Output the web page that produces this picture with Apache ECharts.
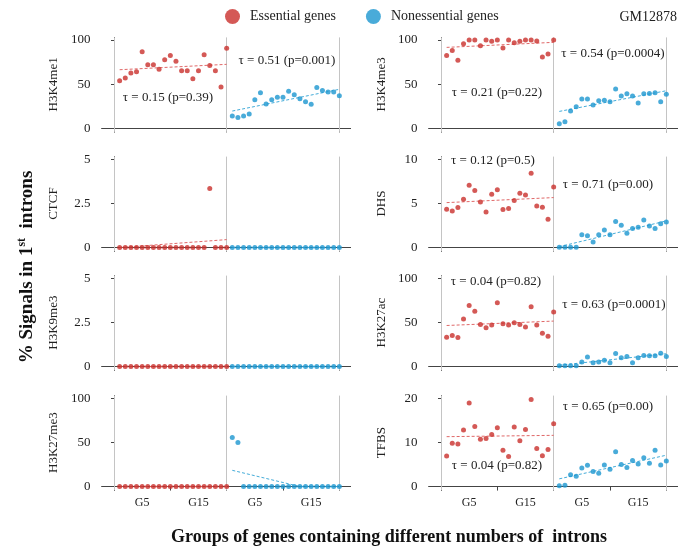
<!DOCTYPE html>
<html>
<head>
<meta charset="utf-8">
<title>GM12878 intron signals</title>
<style>
html, body { margin: 0; padding: 0; background: #fff; }
#main { width: 680px; height: 552px; }
</style>
</head>
<body>
<div id="main"></div>
<script src="https://cdn.jsdelivr.net/npm/echarts@6/dist/echarts.min.js"></script>
<script>
// gene groups G1..G20 (same groups on each half of a panel)
var groups = [1, 2, 3, 4, 5, 6, 7, 8, 9, 10, 11, 12, 13, 14, 15, 16, 17, 18, 19, 20];
var xLabelAt = [5, 15, 25, 35];
var xLabels = ['G5', 'G15', 'G5', 'G15'];

// % signal in 1st intron, essential (red) and nonessential (blue)
var h3k4me1Ess = [53.9, 57.0, 62.6, 64.0, 86.7, 72.0, 72.0, 67.0, 77.7, 82.6, 75.9, 65.3, 65.3, 56.2, 65.3, 83.4, 71.3, 65.3, 46.8, 90.6];
var h3k4me1Non = [13.9, 12.4, 13.9, 16.2, 32.4, 40.3, 27.5, 32.4, 35.1, 35.1, 41.9, 38.1, 33.6, 30.2, 27.2, 46.4, 43.0, 41.1, 41.1, 37.0];
var h3k4me3Ess = [82.6, 88.3, 77.0, 95.8, 100, 100, 93.5, 100, 98.5, 100, 90.9, 100, 97.0, 98.5, 100, 100, 99.0, 80.7, 84.1, 100];
var h3k4me3Non = [5.3, 7.5, 19.6, 24.5, 33.2, 33.2, 26.4, 31.3, 31.7, 30.2, 44.5, 36.6, 39.2, 36.6, 28.6, 39.2, 39.6, 40.3, 30.2, 38.5];
var ctcfEss = [0, 0, 0, 0, 0, 0, 0, 0, 0, 0, 0, 0, 0, 0, 0, 0, 3.34, 0, 0, 0];
var ctcfNon = [0, 0, 0, 0, 0, 0, 0, 0, 0, 0, 0, 0, 0, 0, 0, 0, 0, 0, 0, 0];
var dhsEss = [4.34, 4.15, 4.53, 5.47, 7.06, 6.45, 5.17, 4.04, 6.04, 6.56, 4.30, 4.41, 5.32, 6.15, 5.96, 8.42, 4.72, 4.57, 3.21, 6.87];
var dhsNon = [0.05, 0.05, 0.05, 0.05, 1.44, 1.33, 0.64, 1.44, 2.0, 1.44, 2.94, 2.53, 1.63, 2.15, 2.3, 3.13, 2.45, 2.15, 2.71, 2.9];
var h3k9me3Ess = [0, 0, 0, 0, 0, 0, 0, 0, 0, 0, 0, 0, 0, 0, 0, 0, 0, 0, 0, 0];
var h3k9me3Non = [0, 0, 0, 0, 0, 0, 0, 0, 0, 0, 0, 0, 0, 0, 0, 0, 0, 0, 0, 0];
var h3k27acEss = [33.2, 35.1, 32.8, 53.8, 69.1, 62.6, 47.7, 43.9, 47.0, 72.2, 48.5, 47.0, 49.6, 47.7, 44.7, 67.6, 47.0, 37.8, 34.4, 61.9];
var h3k27acNon = [0.8, 0.8, 0.8, 0.8, 5.3, 10.7, 4.2, 5.3, 7.2, 4.2, 14.9, 9.9, 11.5, 4.2, 9.9, 12.6, 12.2, 12.2, 15.2, 11.5];
var h3k27me3Ess = [0, 0, 0, 0, 0, 0, 0, 0, 0, 0, 0, 0, 0, 0, 0, 0, 0, 0, 0, 0];
var h3k27me3Non = [55.6, 50.0, 0, 0, 0, 0, 0, 0, 0, 0, 0, 0, 0, 0, 0, 0, 0, 0, 0, 0];
var tfbsEss = [6.9, 9.8, 9.65, 12.8, 18.9, 13.6, 10.7, 10.9, 11.8, 13.3, 8.2, 6.8, 13.5, 10.4, 12.9, 19.7, 8.6, 7.0, 8.4, 14.2];
var tfbsNon = [0.2, 0.3, 2.7, 2.35, 4.2, 4.8, 3.4, 3.0, 4.9, 3.9, 7.9, 5.0, 4.3, 5.9, 5.1, 6.5, 5.3, 8.2, 4.9, 5.8];

// fitted trend lines, [group, value]
var h3k4me1EssFit = [[1, 66.4], [20, 72.5]];
var h3k4me1NonFit = [[1, 19.6], [20, 44.2]];
var h3k4me3EssFit = [[1, 91.7], [20, 97.4]];
var h3k4me3NonFit = [[1, 19.2], [20, 42.6]];
var ctcfEssFit = [[1, 0], [20, 0.45]];
var ctcfNonFit = [[1, 0], [20, 0]];
var dhsEssFit = [[1, 5.09], [20, 5.66]];
var dhsNonFit = [[1, 0.1], [20, 3.02]];
var h3k9me3EssFit = [[1, 0], [20, 0]];
var h3k9me3NonFit = [[1, 0], [20, 0]];
var h3k27acEssFit = [[1, 46.5], [20, 51.5]];
var h3k27acNonFit = [[1, 1.5], [20, 14.5]];
var h3k27me3EssFit = [[1, 0], [20, 0]];
var h3k27me3NonFit = [[1, 18.4], [13, 0], [20, 0]];
var tfbsEssFit = [[1, 11.3], [20, 11.6]];
var tfbsNonFit = [[1, 1.75], [20, 7.1]];

var ticks100 = [0, 50, 100];
var ticks5 = [0, 2.5, 5];
var ticks10 = [0, 5, 10];
var ticks20 = [0, 10, 20];

var panels = [
    { name: 'H3K4me1', ess: h3k4me1Ess, non: h3k4me1Non, essFit: h3k4me1EssFit, nonFit: h3k4me1NonFit, ticks: ticks100 },
    { name: 'H3K4me3', ess: h3k4me3Ess, non: h3k4me3Non, essFit: h3k4me3EssFit, nonFit: h3k4me3NonFit, ticks: ticks100 },
    { name: 'CTCF', ess: ctcfEss, non: ctcfNon, essFit: ctcfEssFit, nonFit: ctcfNonFit, ticks: ticks5 },
    { name: 'DHS', ess: dhsEss, non: dhsNon, essFit: dhsEssFit, nonFit: dhsNonFit, ticks: ticks10 },
    { name: 'H3K9me3', ess: h3k9me3Ess, non: h3k9me3Non, essFit: h3k9me3EssFit, nonFit: h3k9me3NonFit, ticks: ticks5 },
    { name: 'H3K27ac', ess: h3k27acEss, non: h3k27acNon, essFit: h3k27acEssFit, nonFit: h3k27acNonFit, ticks: ticks100 },
    { name: 'H3K27me3', ess: h3k27me3Ess, non: h3k27me3Non, essFit: h3k27me3EssFit, nonFit: h3k27me3NonFit, ticks: ticks100 },
    { name: 'TFBS', ess: tfbsEss, non: tfbsNon, essFit: tfbsEssFit, nonFit: tfbsNonFit, ticks: ticks20 }
];

// kendall tau notes: [text, x, y]
var tauNotes = [
    ['\u03c4 = 0.15 (p=0.39)', 168, 98],
    ['\u03c4 = 0.51 (p=0.001)', 287, 61],
    ['\u03c4 = 0.21 (p=0.22)', 497, 93],
    ['\u03c4 = 0.54 (p=0.0004)', 613, 54],
    ['\u03c4 = 0.12 (p=0.5)', 493, 161],
    ['\u03c4 = 0.71 (p=0.00)', 608, 185],
    ['\u03c4 = 0.04 (p=0.82)', 496, 282],
    ['\u03c4 = 0.63 (p=0.0001)', 614, 305],
    ['\u03c4 = 0.65 (p=0.00)', 608, 407],
    ['\u03c4 = 0.04 (p=0.82)', 497, 466]
];

var RED = '#c92f2c';
var BLUE = '#1b96cf';
var SERIF = 'Liberation Serif';
var AXIS = '#444';

var gridLeft = [101.6, 428.6];
var gridTop = [37.4, 156.6, 275.6, 395.6];
var labelX = [54, 382];

var grids = [], xAxes = [], yAxes = [], series = [], graphics = [];

panels.forEach(function (p, i) {
    var col = i % 2;
    var row = Math.floor(i / 2);
    var top = p.ticks[p.ticks.length - 1];
    var last = row === 3;

    grids.push({ left: gridLeft[col], top: gridTop[row], width: 249, height: 94.5 });

    xAxes.push({
        gridIndex: i, type: 'value', min: -2.2, max: 42,
        axisLine: { lineStyle: { color: AXIS, width: 1 } },
        axisTick: { show: true, customValues: last ? [0, 10, 20, 30, 40] : [0, 20, 40], length: 4, lineStyle: { color: AXIS } },
        axisLabel: {
            show: last, customValues: xLabelAt, margin: 7,
            fontFamily: SERIF, fontSize: 12, color: '#222',
            formatter: function (v) { return xLabels[xLabelAt.indexOf(v)] || ''; }
        },
        splitLine: { show: false }
    });

    yAxes.push({
        gridIndex: i, type: 'value', min: -0.04 * top, max: 1.03 * top,
        axisLine: { show: true, lineStyle: { color: AXIS, width: 1 } },
        axisTick: { show: true, customValues: p.ticks, length: 3, lineStyle: { color: AXIS } },
        axisLabel: { customValues: p.ticks, margin: 11, fontFamily: SERIF, fontSize: 13, color: '#222' },
        splitLine: { show: false }
    });

    series.push({
        type: 'line', xAxisIndex: i, yAxisIndex: i, silent: true, showSymbol: false, z: 2,
        data: p.essFit,
        lineStyle: { color: '#e06868', width: 1, type: [3, 2] }
    });
    series.push({
        type: 'line', xAxisIndex: i, yAxisIndex: i, silent: true, showSymbol: false, z: 2,
        data: p.nonFit.map(function (d) { return [d[0] + 20, d[1]]; }),
        lineStyle: { color: '#44acd9', width: 1, type: [3, 2] }
    });
    series.push({
        name: 'Essential genes', type: 'scatter', xAxisIndex: i, yAxisIndex: i, z: 3,
        symbol: 'circle', symbolSize: 5,
        itemStyle: { color: RED },
        data: p.ess.map(function (v, k) { return [groups[k], v]; }),
        markLine: {
            silent: true, symbol: 'none', label: { show: false }, z: 1,
            lineStyle: { color: '#c4c4c4', type: 'solid', width: 1 },
            data: [{ xAxis: 0 }, { xAxis: 20 }, { xAxis: 40 }]
        }
    });
    series.push({
        name: 'Nonessential genes', type: 'scatter', xAxisIndex: i, yAxisIndex: i, z: 3,
        symbol: 'circle', symbolSize: 5,
        itemStyle: { color: BLUE },
        data: p.non.map(function (v, k) { return [groups[k] + 20, v]; })
    });

    graphics.push({
        type: 'text', x: labelX[col], y: gridTop[row] + 47, rotation: Math.PI / 2,
        style: { text: p.name, fill: '#222', font: '13px "Liberation Serif"', align: 'center', verticalAlign: 'middle' }
    });
});

tauNotes.forEach(function (t) {
    graphics.push({
        type: 'text', x: t[1], y: t[2],
        style: { text: t[0], fill: '#222', font: '13px "Liberation Serif"', align: 'center', verticalAlign: 'middle' }
    });
});

graphics.push({
    type: 'text', x: 677, y: 17,
    style: { text: 'GM12878', fill: '#222', font: '14px "Liberation Serif"', align: 'right', verticalAlign: 'middle' }
});
graphics.push({
    type: 'text', x: 389, y: 537,
    style: { text: 'Groups of genes containing different numbers of  introns', fill: '#111', font: 'bold 18px "Liberation Serif"', align: 'center', verticalAlign: 'middle' }
});
graphics.push({
    type: 'text', x: 27, y: 267, rotation: Math.PI / 2,
    style: {
        text: '% Signals in 1{sup|st}  introns', fill: '#111',
        font: 'bold 19px "Liberation Serif"', align: 'center', verticalAlign: 'middle',
        rich: { sup: { fontSize: 12, fontWeight: 'bold', fontFamily: SERIF, fill: '#111', padding: [0, 0, 10, 0] } }
    }
});

var myChart = echarts.init(document.getElementById('main'));
myChart.setOption({
    animation: false,
    backgroundColor: '#fff',
    legend: {
        data: ['Essential genes', 'Nonessential genes'],
        left: 220, top: 4,
        icon: 'circle', itemWidth: 15, itemHeight: 15, itemGap: 30,
        textStyle: { fontFamily: SERIF, fontSize: 14, color: '#222', padding: [0, 0, 0, 5] }
    },
    grid: grids,
    xAxis: xAxes,
    yAxis: yAxes,
    series: series,
    graphic: graphics
});
</script>
</body>
</html>
